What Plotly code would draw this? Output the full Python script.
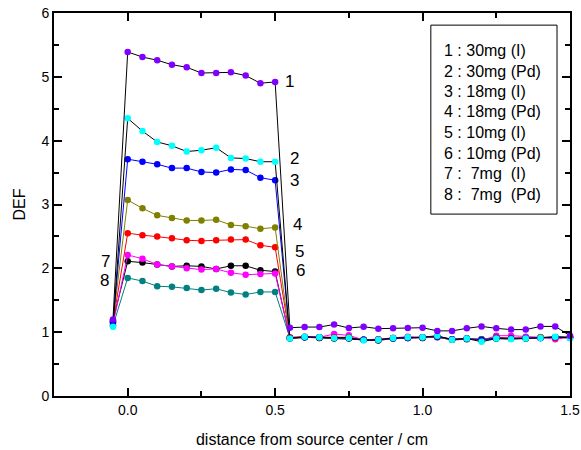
import plotly.graph_objects as go

# ---------------- data ----------------
x = [-0.05, 0.00, 0.05, 0.10, 0.15, 0.20, 0.25, 0.30, 0.35, 0.40, 0.45, 0.50,
     0.55, 0.60, 0.65, 0.70, 0.75, 0.80, 0.85, 0.90, 0.95, 1.00,
     1.05, 1.10, 1.15, 1.20, 1.25, 1.30, 1.35, 1.40, 1.45, 1.50]

s1 = [1.20, 5.39, 5.31, 5.26, 5.19, 5.15, 5.06, 5.06, 5.07, 5.02, 4.90, 4.92,
      1.07, 1.08, 1.08, 1.12, 1.065, 1.085, 1.055, 1.06, 1.065, 1.07,
      1.02, 1.02, 1.06, 1.09, 1.06, 1.04, 1.04, 1.09, 1.09, 0.945]
s2 = [1.085, 4.35, 4.15, 3.98, 3.92, 3.83, 3.85, 3.89, 3.73, 3.72, 3.67, 3.67,
      0.90, 0.93, 0.92, 0.91, 0.91, 0.87, 0.88, 0.91, 0.92, 0.92,
      0.945, 0.88, 0.90, 0.85, 0.90, 0.89, 0.90, 0.91, 0.93, 0.91]
s3 = [1.15, 3.71, 3.67, 3.63, 3.57, 3.57, 3.51, 3.50, 3.55, 3.54, 3.42, 3.38,
      0.91, 0.92, 0.92, 0.91, 0.91, 0.88, 0.88, 0.90, 0.91, 0.92,
      0.93, 0.89, 0.90, 0.88, 0.91, 0.90, 0.91, 0.91, 0.92, 0.92]
s4 = [1.17, 3.07, 2.94, 2.83, 2.79, 2.75, 2.75, 2.76, 2.68, 2.66, 2.62, 2.64,
      0.91, 0.92, 0.92, 0.91, 0.92, 0.88, 0.88, 0.90, 0.91, 0.92,
      0.93, 0.88, 0.90, 0.89, 0.91, 0.90, 0.91, 0.92, 0.92, 0.93]
s5 = [1.16, 2.55, 2.52, 2.50, 2.47, 2.44, 2.43, 2.44, 2.45, 2.45, 2.36, 2.33,
      0.92, 0.93, 0.92, 0.92, 0.92, 0.88, 0.89, 0.91, 0.92, 0.92,
      0.93, 0.89, 0.90, 0.88, 0.92, 0.91, 0.91, 0.92, 0.91, 0.92]
s6 = [1.12, 2.21, 2.15, 2.06, 2.03, 2.00, 1.98, 1.99, 1.93, 1.90, 1.91, 1.92,
      0.91, 0.93, 0.92, 0.97, 0.95, 0.88, 0.89, 0.91, 0.93, 0.92,
      0.93, 0.89, 0.90, 0.87, 0.945, 0.945, 0.93, 0.92, 0.89, 0.92]
s7 = [1.18, 2.11, 2.09, 2.06, 2.03, 2.04, 2.03, 1.99, 2.04, 2.04, 1.97, 1.95,
      0.90, 0.92, 0.91, 0.90, 0.90, 0.88, 0.87, 0.90, 0.91, 0.91,
      0.92, 0.88, 0.89, 0.89, 0.90, 0.90, 0.90, 0.91, 0.92, 0.92]
s8 = [1.10, 1.85, 1.80, 1.72, 1.71, 1.69, 1.66, 1.68, 1.62, 1.59, 1.63, 1.63,
      0.91, 0.92, 0.91, 0.91, 0.91, 0.88, 0.88, 0.91, 0.92, 0.91,
      0.93, 0.88, 0.90, 0.87, 0.90, 0.90, 0.90, 0.91, 0.92, 0.91]

series = [s1, s2, s3, s4, s5, s6, s7, s8]
series_names = ["1 : 30mg (I)", "2 : 30mg (Pd)", "3 : 18mg (I)", "4 : 18mg (Pd)",
                "5 : 10mg (I)", "6 : 10mg (Pd)", "7 :\u00a0 7mg\u00a0 (I)", "8 :\u00a0 7mg\u00a0 (Pd)"]
curve_labels = ["1", "2", "3", "4", "5", "6", "7", "8"]

x_ticks = [0.0, 0.5, 1.0, 1.5]
x_tick_text = ["0.0", "0.5", "1.0", "1.5"]
y_ticks = [0, 1, 2, 3, 4, 5, 6]

# ---------------- styles / positions ----------------
marker_colors = ["#8000ff", "#00ffff", "#0000ff", "#808000", "#ff0000", "#ff00ff", "#000000", "#008080"]
line_colors = ["#000000", "#000000", "#0000ff", "#808000", "#ff0000", "#ff00ff", "#000000", "#008080"]
label_pos = [(0.547, 4.92), (0.564, 3.72), (0.566, 3.37), (0.575, 2.68),
             (0.581, 2.27), (0.585, 1.96), (-0.074, 2.10), (-0.079, 1.81)]
FONT = "Arial, Liberation Sans, sans-serif"

fig = go.Figure()
for i in [7, 6, 5, 4, 3, 2, 1, 0]:
    fig.add_trace(go.Scatter(
        x=x, y=series[i], mode="lines+markers", name=series_names[i],
        line=dict(color=line_colors[i], width=1),
        marker=dict(color=marker_colors[i], size=6.5),
        cliponaxis=False, showlegend=False))

for lab, (lx, ly) in zip(curve_labels, label_pos):
    fig.add_annotation(x=lx, y=ly, text=lab, showarrow=False,
                       font=dict(family=FONT, size=17, color="black"),
                       xanchor="center", yanchor="middle")

# legend box
fig.add_shape(type="rect", xref="x", yref="y", x0=1.028, x1=1.456, y0=2.85, y1=5.81,
              line=dict(color="black", width=1), fillcolor="white", layer="above")
leg_y = [5.42, 5.09, 4.77, 4.45, 4.13, 3.80, 3.48, 3.16]
for name, ly in zip(series_names, leg_y):
    fig.add_annotation(x=1.067, y=ly, text=name, showarrow=False, xanchor="left",
                       yanchor="middle", font=dict(family=FONT, size=16, color="black"))

axis_common = dict(showline=True, linecolor="black", linewidth=2, mirror="allticks",
                   ticks="inside", ticklen=8, tickwidth=1.5, tickcolor="black",
                   showgrid=False, zeroline=False, automargin=False,
                   ticklabeloverflow="allow",
                   tickfont=dict(family=FONT, size=14, color="black"))

fig.update_xaxes(range=[-0.25, 1.5], tickvals=x_ticks, ticktext=x_tick_text,
                 minor=dict(ticks="inside", ticklen=5, tickwidth=1.5, tickcolor="black",
                            dtick=0.25, tick0=0.25, showgrid=False),
                 title=dict(text="distance from source center / cm",
                            font=dict(family=FONT, size=16, color="black"), standoff=17),
                 **axis_common)
fig.update_yaxes(range=[0, 6], tickvals=y_ticks,
                 minor=dict(ticks="inside", ticklen=5, tickwidth=1.5, tickcolor="black",
                            dtick=0.5, tick0=0.5, showgrid=False),
                 title=dict(text="DEF", font=dict(family=FONT, size=16, color="black"), standoff=12),
                 **axis_common)

fig.update_layout(width=581, height=450, margin=dict(l=54, r=11, t=13, b=54),
                  plot_bgcolor="white", paper_bgcolor="white", showlegend=False)

# remove the browser's default 8px body margin so the 581x450 figure fills the window exactly
fig.write_html("out.html", config={"displayModeBar": False},
               post_script="document.body.style.margin='0';document.body.style.overflow='hidden';")
